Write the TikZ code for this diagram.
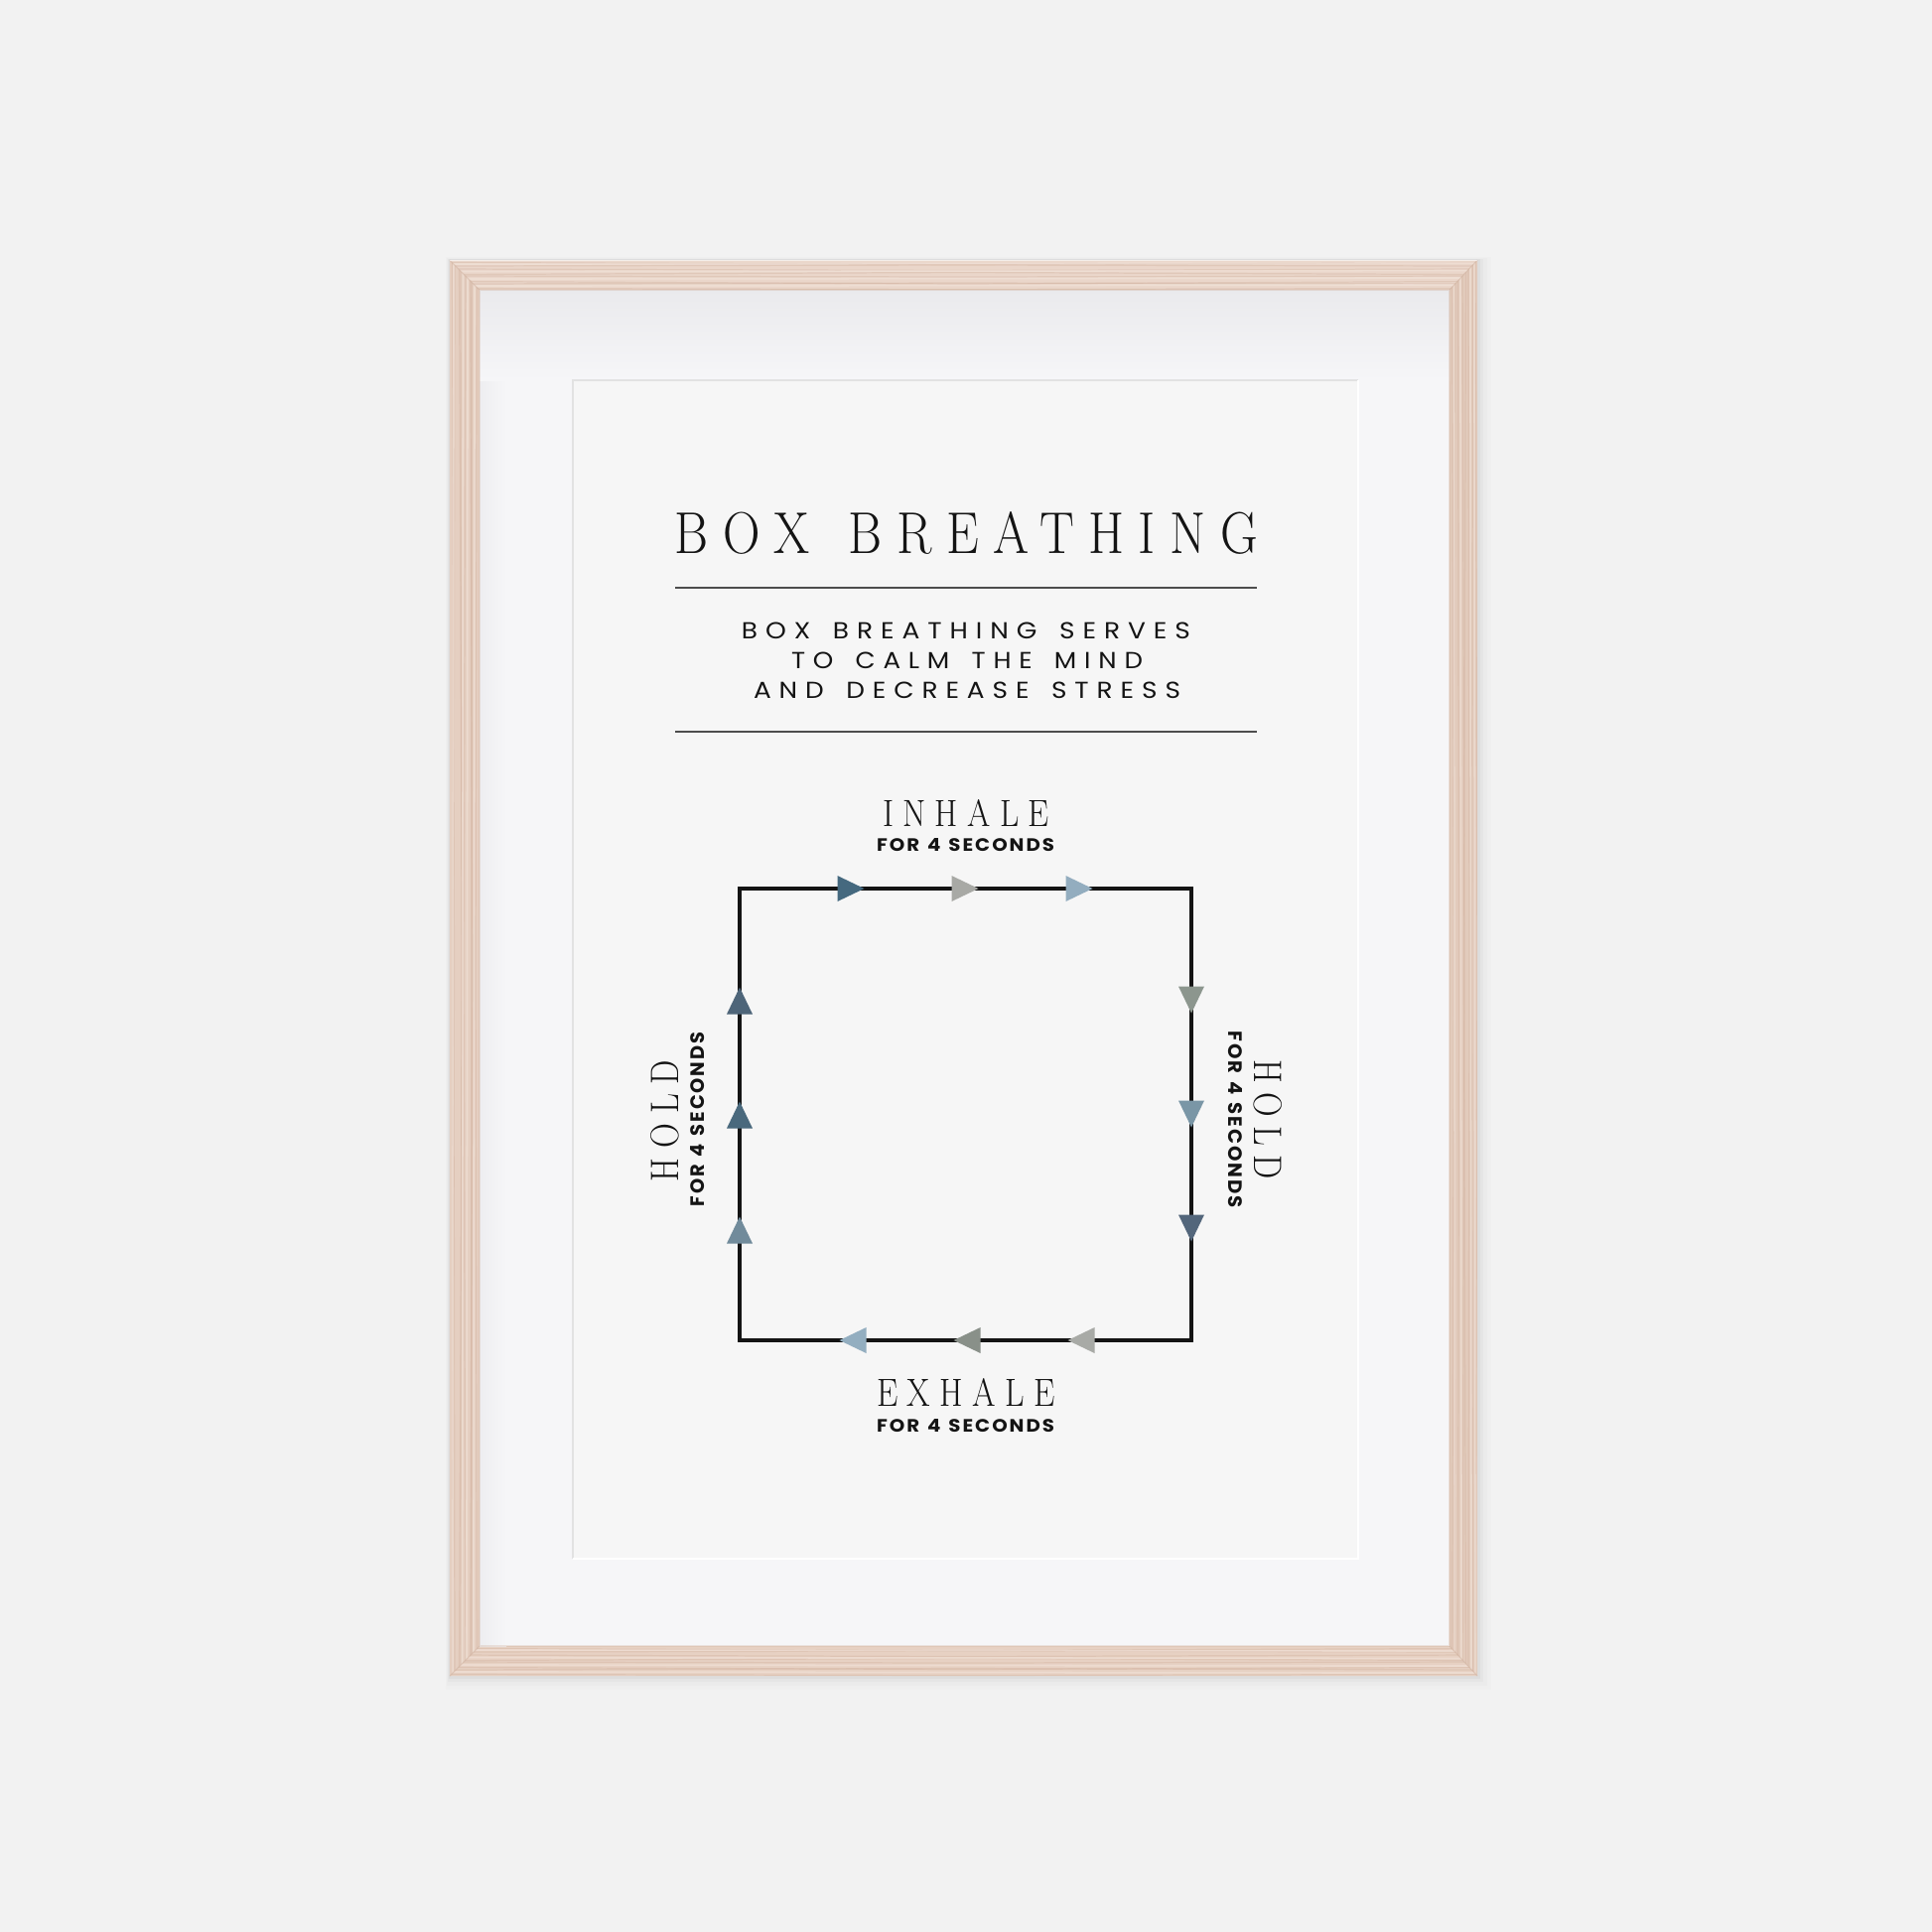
\documentclass[tikz,border=0pt]{standalone}
\usepackage{graphicx}
\usepackage{fontspec}
\newfontfamily\popls[LetterSpace=30,WordSpace=1.5]{Poppins}
\newfontfamily\popsm[LetterSpace=10,WordSpace=1.3]{Poppins}
\newfontfamily\deco[LetterSpace=28,WordSpace=1.3]{lmroman17-regular.otf}
\definecolor{wall}{HTML}{F2F2F2}
\definecolor{woodT}{HTML}{EAD6CA}
\definecolor{woodL}{HTML}{E5CFC1}
\definecolor{woodR}{HTML}{E2CBBC}
\definecolor{woodB}{HTML}{E7D1C3}
\definecolor{grain}{HTML}{CFAE9A}
\definecolor{grainL}{HTML}{F3E5DC}
\definecolor{mat}{HTML}{F6F6F8}
\definecolor{matsh}{HTML}{EAEAED}
\definecolor{paper}{HTML}{F6F6F6}
\definecolor{paperedge}{HTML}{E2E2E2}
\definecolor{ink}{HTML}{141414}
\definecolor{rulec}{HTML}{4D4D4D}
\definecolor{tA}{HTML}{45697F}
\definecolor{tB}{HTML}{A8A9A5}
\definecolor{tC}{HTML}{93ADBF}
\definecolor{rA}{HTML}{8C968E}
\definecolor{rB}{HTML}{7A96A6}
\definecolor{rC}{HTML}{53667B}
\definecolor{bA}{HTML}{93AEC0}
\definecolor{bB}{HTML}{899089}
\definecolor{bC}{HTML}{A8AAA6}
\definecolor{lA}{HTML}{4E6579}
\definecolor{lB}{HTML}{4A697D}
\definecolor{lC}{HTML}{718B9B}
\tikzset{
  lbl/.style={inner sep=0pt, outer sep=0pt, anchor=base, text=ink},
  boxline/.style={draw=ink, line width=0.95pt, line join=miter},
  hrule/.style={draw=rulec, line width=0.45pt},
  grainline/.style={draw=grain, line width=0.35pt, opacity=0.35},
  grainlight/.style={draw=grainL, line width=0.5pt, opacity=0.55}
}
\newcommand\tri[3]{\fill[#1, shift={(#2)}, rotate=#3] (-13.5,-13) -- (13.5,0) -- (-13.5,13) -- cycle;}
\begin{document}
\begin{tikzpicture}[x=0.1mm,y=-0.1mm]
\useasboundingbox (0,0) rectangle (1946,1946);
\fill[wall] (0,0) rectangle (1946,1946);
% soft shadow of frame on wall
\foreach \d/\o in {14/0.010,10/0.015,6/0.022,3/0.03}{
  \fill[black, opacity=\o] (453-\d*0.3,262-\d*0.2) rectangle (1488+\d,1688+\d);
}
% frame sides
\fill[woodL] (453,262) -- (483,292) -- (483,1658) -- (453,1688) -- cycle;
\fill[woodT] (453,262) -- (1488,262) -- (1460,292) -- (483,292) -- cycle;
\fill[woodR] (1488,262) -- (1488,1688) -- (1460,1658) -- (1460,292) -- cycle;
\fill[woodB] (453,1688) -- (1488,1688) -- (1460,1658) -- (483,1658) -- cycle;
% grain
\begin{scope}
  \clip (453,262) -- (483,292) -- (483,1658) -- (453,1688) -- cycle;
  \foreach \x/\e in {455.5/2,458/-1,462.5/3,464/1,469/-2,473.5/2.5,475/0,480.5/-1.5}{\draw[grainline] (\x,262) -- (\x+\e,975) -- (\x,1688);}
  \foreach \x in {457,466.5,471,478}{\draw[grainlight] (\x,262) -- (\x-1,1688);}
\end{scope}
\begin{scope}
  \clip (453,262) -- (1488,262) -- (1460,292) -- (483,292) -- cycle;
  \foreach \y/\e in {264.5/2,268/-1,271/1.5,276.5/-2,278/1,283.5/2.5,286/-1,290.5/1}{\draw[grainline] (453,\y) -- (970,\y+\e) -- (1488,\y);}
  \foreach \y in {266,273.5,281,288}{\draw[grainlight] (453,\y) -- (1488,\y-1);}
\end{scope}
\begin{scope}
  \clip (1488,262) -- (1488,1688) -- (1460,1658) -- (1460,292) -- cycle;
  \foreach \x/\e in {1462.5/2,1466/-1.5,1468.5/1,1473/2,1476.5/-2,1479/1,1483.5/-1,1486/2}{\draw[grainline] (\x,262) -- (\x+\e,975) -- (\x,1688);}
  \foreach \x in {1464.5,1471,1481,1485}{\draw[grainlight] (\x,262) -- (\x+1,1688);}
\end{scope}
\begin{scope}
  \clip (453,1688) -- (1488,1688) -- (1460,1658) -- (483,1658) -- cycle;
  \foreach \y/\e in {1660.5/2,1664/-1,1667/1.5,1672.5/-2,1674/1,1679.5/2,1682/-1.5,1686.5/1}{\draw[grainline] (453,\y) -- (970,\y+\e) -- (1488,\y);}
  \foreach \y in {1662,1669.5,1677,1684}{\draw[grainlight] (453,\y) -- (1488,\y+1);}
\end{scope}
% miter joints and edges
\draw[grain, opacity=0.45, line width=0.3pt] (453,262) -- (483,292) (1488,262) -- (1460,292) (1488,1688) -- (1460,1658) (453,1688) -- (483,1658);
\draw[white, opacity=0.6, line width=0.4pt] (453,262.5) -- (1488,262.5);
% mat
\fill[mat] (483,292) rectangle (1460,1658);
\shade[left color=matsh!70!mat, right color=mat] (483,292) rectangle (510,1658);
\shade[top color=matsh, bottom color=mat] (483,292) rectangle (1460,383);
\draw[grain, opacity=0.3, line width=0.4pt] (483,292) rectangle (1460,1658);
% print
\fill[paper] (577,383) rectangle (1368,1570);
\draw[paperedge, line width=0.5pt] (577,1570) -- (577,383) -- (1368,383);
\draw[white, line width=0.5pt] (1368,383) -- (1368,1570) -- (577,1570);
% title
\node[lbl] (title) at (973.5,557) {\resizebox{58.7mm}{4.2mm}{\deco BOX BREATHING}};
\draw[hrule] (680,592) -- (1266,592);
\node[lbl] (s1) at (973,643) {\resizebox{45.2mm}{1.65mm}{\popls BOX BREATHING SERVES}};
\node[lbl] (s2) at (974,673) {\resizebox{35.4mm}{1.65mm}{\popls TO CALM THE MIND}};
\node[lbl] (s3) at (974,703) {\resizebox{43.0mm}{1.65mm}{\popls AND DECREASE STRESS}};
\draw[hrule] (680,737) -- (1266,737);
% square
\coordinate (TL) at (745,895);
\coordinate (TR) at (1200,895);
\coordinate (BR) at (1200,1350);
\coordinate (BL) at (745,1350);
\draw[boxline] (TL) -- (TR) -- (BR) -- (BL) -- cycle;
% arrowheads
\coordinate (t1) at (857,895); \coordinate (t2) at (972,895); \coordinate (t3) at (1087,895);
\coordinate (r1) at (1200,1007); \coordinate (r2) at (1200,1122); \coordinate (r3) at (1200,1237);
\coordinate (b1) at (859,1350); \coordinate (b2) at (974,1350); \coordinate (b3) at (1089,1350);
\coordinate (l1) at (745,1008); \coordinate (l2) at (745,1123); \coordinate (l3) at (745,1239);
\tri{tA}{t1}{0}\tri{tB}{t2}{0}\tri{tC}{t3}{0}
\tri{rA}{r1}{-90}\tri{rB}{r2}{-90}\tri{rC}{r3}{-90}
\tri{bA}{b1}{180}\tri{bB}{b2}{180}\tri{bC}{b3}{180}
\tri{lA}{l1}{90}\tri{lB}{l2}{90}\tri{lC}{l3}{90}
% labels
\node[lbl] (inhale) at (973,832) {\resizebox{16.8mm}{2.7mm}{\deco INHALE}};
\node[lbl] (inhaleS) at (972.5,857) {\resizebox{17.9mm}{1.3mm}{\popsm\bfseries FOR 4 SECONDS}};
\node[lbl] (exhale) at (973,1416) {\resizebox{18.0mm}{2.8mm}{\deco EXHALE}};
\node[lbl] (exhaleS) at (972.5,1442) {\resizebox{17.9mm}{1.3mm}{\popsm\bfseries FOR 4 SECONDS}};
\node[lbl, rotate=90] (holdL) at (683,1129) {\resizebox{12.2mm}{2.8mm}{\deco HOLD}};
\node[lbl, rotate=90] (holdLS) at (709,1127.5) {\resizebox{17.6mm}{1.4mm}{\popsm\bfseries FOR 4 SECONDS}};
\node[lbl, rotate=-90] (holdR) at (1263,1127.5) {\resizebox{12.1mm}{2.8mm}{\deco HOLD}};
\node[lbl, rotate=-90] (holdRS) at (1237,1127.5) {\resizebox{17.8mm}{1.4mm}{\popsm\bfseries FOR 4 SECONDS}};
\end{tikzpicture}
\end{document}
